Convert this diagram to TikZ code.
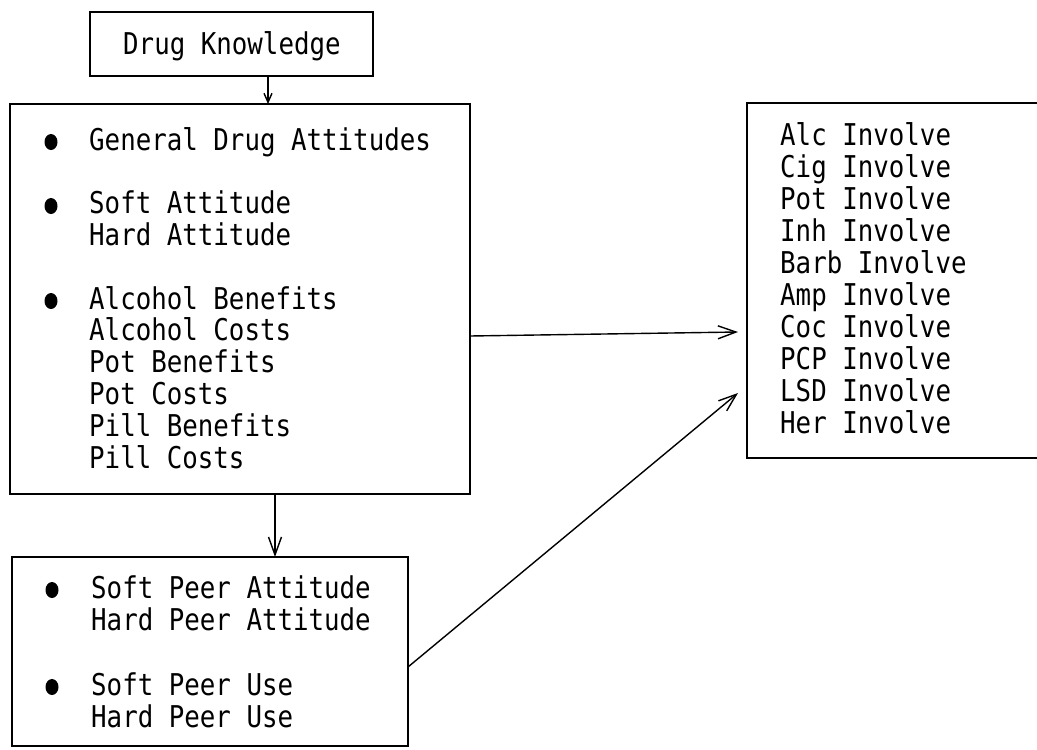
\documentclass[tikz,border=0pt]{standalone}
\usepackage{fontspec}
\newfontfamily\tw[FakeStretch=0.86]{DejaVu Sans Mono}
\usetikzlibrary{arrows.meta}
\begin{document}
\begin{tikzpicture}[x=1pt,y=-1pt,
  box/.style={draw, line width=1.5pt, inner sep=0pt, outer sep=0pt, anchor=north west},
  txt/.style={anchor=base west, inner sep=0pt, font=\tw\fontsize{30pt}{32pt}\selectfont},
  arr/.style={line width=1.4pt, -{Straight Barb[length=18pt,width=13pt,line width=1.4pt]}},
  arrsmall/.style={line width=1.4pt, -{Straight Barb[length=9pt,width=8pt,line width=1.4pt]}},
  bul/.style={fill=black}]
\useasboundingbox (0,0) rectangle (1037,750);
\clip (0,0) rectangle (1037,750);
\fill[white] (0,0) rectangle (1037,750);

% boxes
\node[box, minimum width=283pt, minimum height=64pt] (dk) at (90,12) {};
\node[box, minimum width=460pt, minimum height=390pt] (main) at (10,104) {};
\node[box, minimum width=420pt, minimum height=355pt] (inv) at (747,103) {};
\node[box, minimum width=396pt, minimum height=189pt] (peer) at (12,557) {};

% texts
\node[txt] (dkt) at (123,54) {Drug Knowledge};
\foreach \t/\y [count=\i] in {General Drug Attitudes/150, Soft Attitude/213.6, Hard Attitude/245.4,
  Alcohol Benefits/309, Alcohol Costs/340.8, Pot Benefits/372.6, Pot Costs/404.4,
  Pill Benefits/436.2, Pill Costs/468}
  \node[txt] (m\i) at (89,\y) {\t};
\foreach \t/\y [count=\i] in {Soft Peer Attitude/598, Hard Peer Attitude/630,
  Soft Peer Use/695, Hard Peer Use/727}
  \node[txt] (p\i) at (91,\y) {\t};
\foreach \t [count=\i] in {Alc Involve, Cig Involve, Pot Involve, Inh Involve, Barb Involve,
  Amp Involve, Coc Involve, PCP Involve, LSD Involve, Her Involve}
  \node[txt] (r\i) at (780,{145+32*(\i-1)}) {\t};

% bullets
\foreach \y in {142, 206, 301}
  \fill[bul] (51,\y) ellipse [x radius=6.5, y radius=8];
\foreach \y in {590, 687}
  \fill[bul] (52,\y) ellipse [x radius=6.5, y radius=8];

% connectors
\coordinate (c1) at (268,0);
\draw[arrsmall] (dk.south -| c1) -- (main.north -| c1);
\coordinate (c2) at (275,0);
\draw[arr] (main.south -| c2) -- (peer.north -| c2);
\coordinate (c3) at (0,336);
\coordinate (e1) at (738,332);
\draw[arr] (main.east |- c3) -- (e1);
\coordinate (c5) at (0,667);
\coordinate (e2) at (738,393);
\draw[arr] (peer.east |- c5) -- (e2);
\end{tikzpicture}
\end{document}
